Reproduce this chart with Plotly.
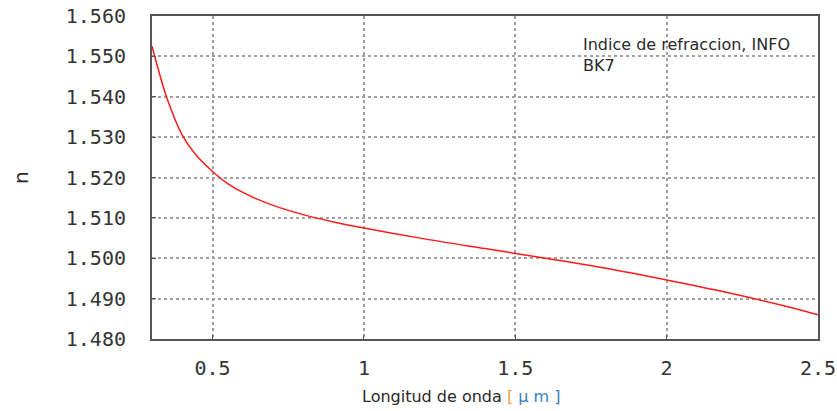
import plotly.graph_objects as go

# refractive index of BK7
wavelength = [0.30, 0.32, 0.35, 0.40, 0.45, 0.50, 0.55, 0.60, 0.70, 0.80, 0.90, 1.00,
              1.20, 1.40, 1.50, 1.60, 1.80, 2.00, 2.20, 2.40, 2.50]
n_index = [1.5525, 1.5470, 1.5395, 1.5305, 1.5252, 1.5215, 1.5185, 1.5163, 1.5131, 1.5108,
           1.5090, 1.5075, 1.5048, 1.5024, 1.5012, 1.5000, 1.4975, 1.4946, 1.4915, 1.4880, 1.4860]

x_ticks = [0.5, 1, 1.5, 2, 2.5]
x_ticktext = ["0.5", "1", "1.5", "2", "2.5"]
y_ticks = [1.48, 1.49, 1.50, 1.51, 1.52, 1.53, 1.54, 1.55, 1.56]
y_ticktext = ["%.3f" % v for v in y_ticks]

FW, FH = 837, 411
L, R, T, B = 152, 818, 16, 339
W, H = R - L, B - T

fig = go.Figure()
fig.add_trace(go.Scatter(x=wavelength, y=n_index, mode="lines",
                         line=dict(color="#ff1a1a", width=1.5, shape="spline"),
                         showlegend=False))

tick_font = dict(family="DejaVu Sans Mono", size=20, color="#333333")
axis_common = dict(showline=True, linecolor="#555555", linewidth=2, mirror=True,
                   ticks="inside", ticklen=4, tickcolor="#555555",
                   showgrid=True, gridcolor="#a0a0a0", griddash="dot", gridwidth=1.5,
                   zeroline=False, tickfont=tick_font, automargin=False,
                   ticklabeloverflow="allow")

fig.update_xaxes(range=[0.3, 2.5], tickvals=x_ticks, ticktext=x_ticktext,
                 ticklabelstandoff=10, **axis_common)
fig.update_yaxes(range=[1.48, 1.56], tickvals=y_ticks, ticktext=y_ticktext,
                 ticklabelstandoff=20, **axis_common)

# legend-like caption
fig.add_annotation(x=(581 - L) / W, y=(B - 33) / H, xref="paper", yref="paper",
                   xanchor="left", yanchor="top",
                   text="Indice de refraccion, INFO<br>BK7", showarrow=False, align="left",
                   font=dict(family="DejaVu Sans", size=16, color="#2a2a2a"))
# axis titles
fig.add_annotation(x=(461 - L) / W, y=-(396 - B) / H, xref="paper", yref="paper",
                   xanchor="center", yanchor="middle", showarrow=False,
                   text="Longitud de onda <span style='color:#e8a040'>[</span> "
                        "<span style='color:#3a7fc0'>µ m</span> <span style='color:#3a7fc0'>]</span>",
                   font=dict(family="DejaVu Sans", size=16, color="#2a2a2a"))
fig.add_annotation(x=-(L - 21) / W, y=(B - 178) / H, xref="paper", yref="paper",
                   xanchor="center", yanchor="middle", showarrow=False, textangle=-90,
                   text="n", font=dict(family="DejaVu Sans", size=20, color="#2a2a2a"))

fig.update_layout(width=FW, height=FH, margin=dict(l=L, r=FW - R, t=T, b=FH - B),
                  plot_bgcolor="white", paper_bgcolor="white")

# drop the default 8px body margin so the figure fills the window
fig.write_html("out.html", config={"displayModeBar": False},
               post_script="document.body.style.margin='0';")
